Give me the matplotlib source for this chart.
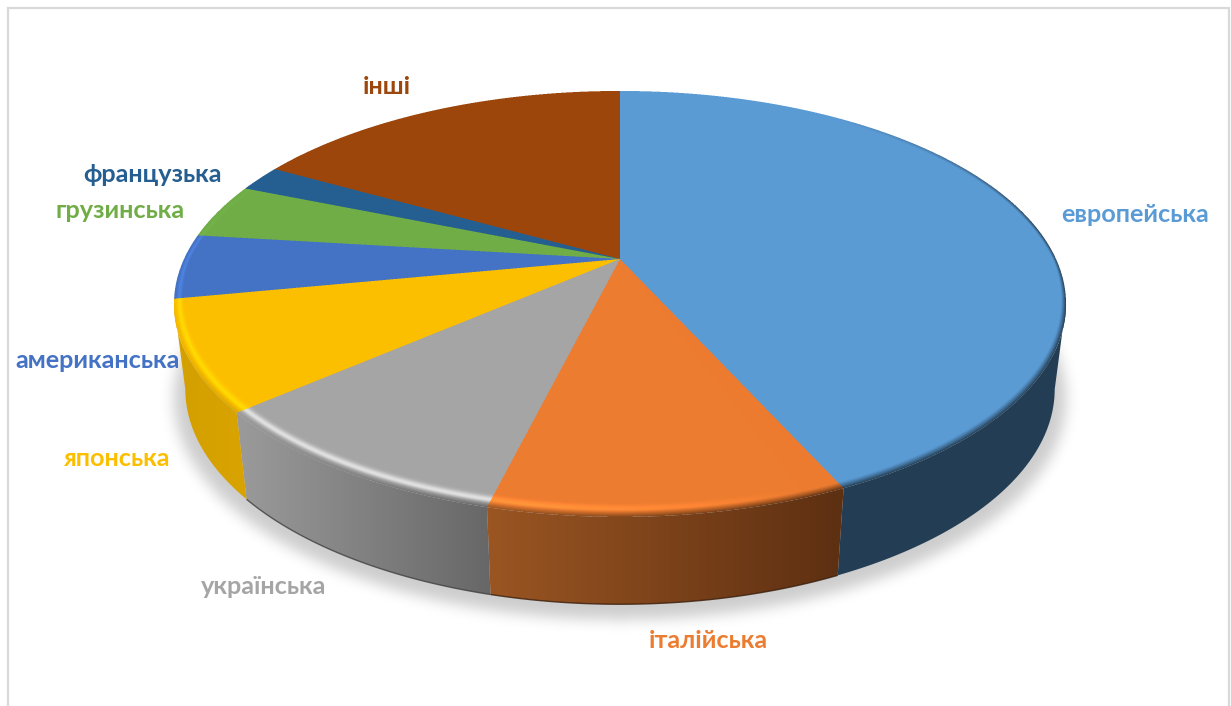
"""Pie chart of film shares by origin, drawn as a tilted 3D disc with bevel and shadow."""

from matplotlib import colors as cls
from matplotlib import pyplot as plt
from matplotlib.path import Path
from matplotlib.patches import PathPatch, Rectangle
import numpy as np

##############
### inputs ###
##############

names = ['европейська', 'італійська', 'українська', 'японська',
         'американська', 'грузинська', 'французька', 'інші']
shares = [43.2, 10.7, 9.8, 8.3, 4.9, 4.2, 2.0, 16.9]
top_colors = ['#5B9BD5', '#EC7C30', '#A5A5A5', '#FCBF00',
              '#4472C4', '#70AD47', '#255E91', '#9C470D']
# wall colour at the start and at the end of each slice (clockwise)
wall_start = ['#233E54', '#5E3012', '#676767', '#D9A400',
              '#2A4A85', '#47702C', '#163A5A', '#5E2A08']
wall_end = ['#233E54', '#9A5522', '#999999', '#D4A000',
            '#2A4A85', '#47702C', '#163A5A', '#5E2A08']
rim_line = [False, True, True, False, False, False, False, False]
# how much the bevel of each slice lights up
rim_light = [0.0, 0.2, 0.36, 0.14, 0.15, 0.05, 0.0, 0.0]
label_pos = [(1135, 215), (708, 640), (264, 587), (116, 458),
             (98, 360), (120, 210), (153, 174), (387, 87)]

W, H = 1231, 706
CX = 620
# perspective of the upper and lower disc: centre y, radius, height, depth factor
UPPER = (259, 436, 203.5, 0.211)
LOWER = (344, 425, 205.6, 0.21)
BEVEL = 0.05
SS = 3  # supersampling of the top face

############
### MAIN ###
############

def project(theta, r, disc):
    """theta in degrees clockwise from the far side of the disc"""
    cy, rx, ry, p = disc
    t = np.radians(theta)
    u = r * np.sin(t)
    v = r * np.cos(t)
    return CX + rx * u / (1 + p * v), cy - ry * v / (1 + p * v)


def unproject(xx, yy, disc):
    cy, rx, ry, p = disc
    dy = cy - yy
    v = dy / (ry - p * dy)
    u = (xx - CX) * (1 + p * v) / rx
    return u, v


def darkening(theta):
    rise = np.clip((theta - 35) / 45, 0, 1)
    fall = np.clip((262 - theta) / 35, 0, 1)
    return rise * fall


def blur_1d(a, sigma, axis):
    x = np.arange(-int(3 * sigma), int(3 * sigma) + 1)
    kernel = np.exp(-0.5 * (x / sigma) ** 2)
    kernel = kernel / kernel.sum()
    return np.apply_along_axis(lambda m: np.convolve(m, kernel, mode='same'), axis, a)


fig = plt.figure(figsize=(W / 100, H / 100), dpi=100)
ax = fig.add_axes([0, 0, 1, 1])
ax.axis('off')

# chart frame, the bottom side runs off the canvas
ax.add_patch(Rectangle((8, 8), 1221, 720, fc='white', ec='#D9D9D9', lw=1.6, zorder=0))

# soft shadow under the disc
yy, xx = np.mgrid[0:H, 0:W]
u, v = unproject(xx + 0.5, yy + 0.5 - 7, LOWER)
mask = (u ** 2 + v ** 2 < 1.025 ** 2).astype(float)
mask = blur_1d(blur_1d(mask, 7, 0), 7, 1)
rgba = np.zeros((H, W, 4))
rgba[..., 3] = 0.2 * mask
ax.imshow(rgba, extent=(0, W, H, 0), origin='upper', aspect='auto', zorder=1)

# slice limits in degrees
edges = np.concatenate([[0], np.cumsum(shares)]) * 360.0 / np.sum(shares)

# only this arc of the wall faces the viewer
face_from = np.degrees(np.arccos(-UPPER[3]))
face_to = 360 - face_from

# side walls: a horizontal gradient clipped to the wall outline
for i in range(len(shares)):
    a = max(edges[i], face_from)
    b = min(edges[i + 1], face_to)
    if b <= a:
        continue
    thetas = np.linspace(a, b, 120)
    x_top, y_top = project(thetas, 1.0, UPPER)
    x_low, y_low = project(thetas, 1.0, LOWER)
    verts = np.column_stack([np.concatenate([x_top, x_low[::-1]]),
                             np.concatenate([y_top, y_low[::-1]])])
    outline = PathPatch(Path(np.vstack([verts, verts[:1]]), closed=True),
                        transform=ax.transData, fc='none', ec='none')
    ax.add_patch(outline)
    c0 = np.array(cls.to_rgb(wall_start[i]))
    c1 = np.array(cls.to_rgb(wall_end[i]))
    frac = np.clip((np.arange(W) + 0.5 - x_low[0]) / (x_low[-1] - x_low[0]), 0, 1)
    grad = frac[:, None] * (c1 - c0) + c0
    img = ax.imshow(grad[None, :, :], extent=(0, W, H, 0),
                    aspect='auto', interpolation='nearest', zorder=2 + i * 0.2)
    img.set_clip_path(outline)
    # thin dark line along the lower rim of the front slices
    if rim_line[i]:
        ax.plot(x_low, y_low, color=c0 * 0.6, lw=1.0, alpha=0.8, zorder=2.1 + i * 0.2,
                solid_capstyle='butt')

# top face, computed per pixel on a finer grid and averaged down
yy, xx = np.mgrid[0:H * SS, 0:W * SS]
u, v = unproject((xx + 0.5) / SS, (yy + 0.5) / SS, UPPER)
r = np.hypot(u, v)
theta = np.degrees(np.arctan2(u, v)) % 360
idx = np.clip(np.searchsorted(edges, theta, side='right') - 1, 0, len(shares) - 1)
base = np.array([cls.to_rgb(c) for c in top_colors])[idx]
c0 = np.array([cls.to_rgb(c) for c in wall_start])[idx]
c1 = np.array([cls.to_rgb(c) for c in wall_end])[idx]
frac = ((theta - edges[idx]) / (edges[idx + 1] - edges[idx]))[..., None]
wall = c0 + (c1 - c0) * frac
# the bevel is narrower towards the sides of the disc
width = BEVEL * (0.35 + 0.65 * np.abs(np.cos(np.radians(theta))))
t = np.clip((r - (1 - width)) / width, 0, 1)
bump = np.exp(-((t - 0.5) / 0.22) ** 2)
dark = np.clip((t - 0.55) / 0.45, 0, 1) ** 1.2
light = np.array(rim_light)[idx] * np.clip((theta - 160) / 30, 0, 1) * np.clip((300 - theta) / 30, 0, 1)
face = np.clip(base * (1 + light * bump)[..., None], 0, 1)
face = face + (wall - face) * (darkening(theta) * dark)[..., None]
inside = (r <= 1.0)[..., None]
premult = np.concatenate([face * inside, inside.astype(float)], axis=2)
premult = premult.reshape(H, SS, W, SS, 4).mean(axis=(1, 3))
alpha = premult[..., 3:]
top = np.concatenate([premult[..., :3] / np.maximum(alpha, 1e-6), alpha], axis=2)
ax.imshow(np.clip(top, 0, 1), extent=(0, W, H, 0), origin='upper', aspect='auto',
          interpolation='nearest', zorder=6)

# category labels in the slice colours
for name, pos, col in zip(names, label_pos, top_colors):
    ax.text(pos[0], pos[1], name, color=col, fontsize=18.2, fontweight='bold',
            family=['Lato', 'Open Sans', 'DejaVu Sans'],
            ha='center', va='center', zorder=10)

ax.set_xlim(0, W)
ax.set_ylim(H, 0)
fig.savefig('out.png', dpi=100)
